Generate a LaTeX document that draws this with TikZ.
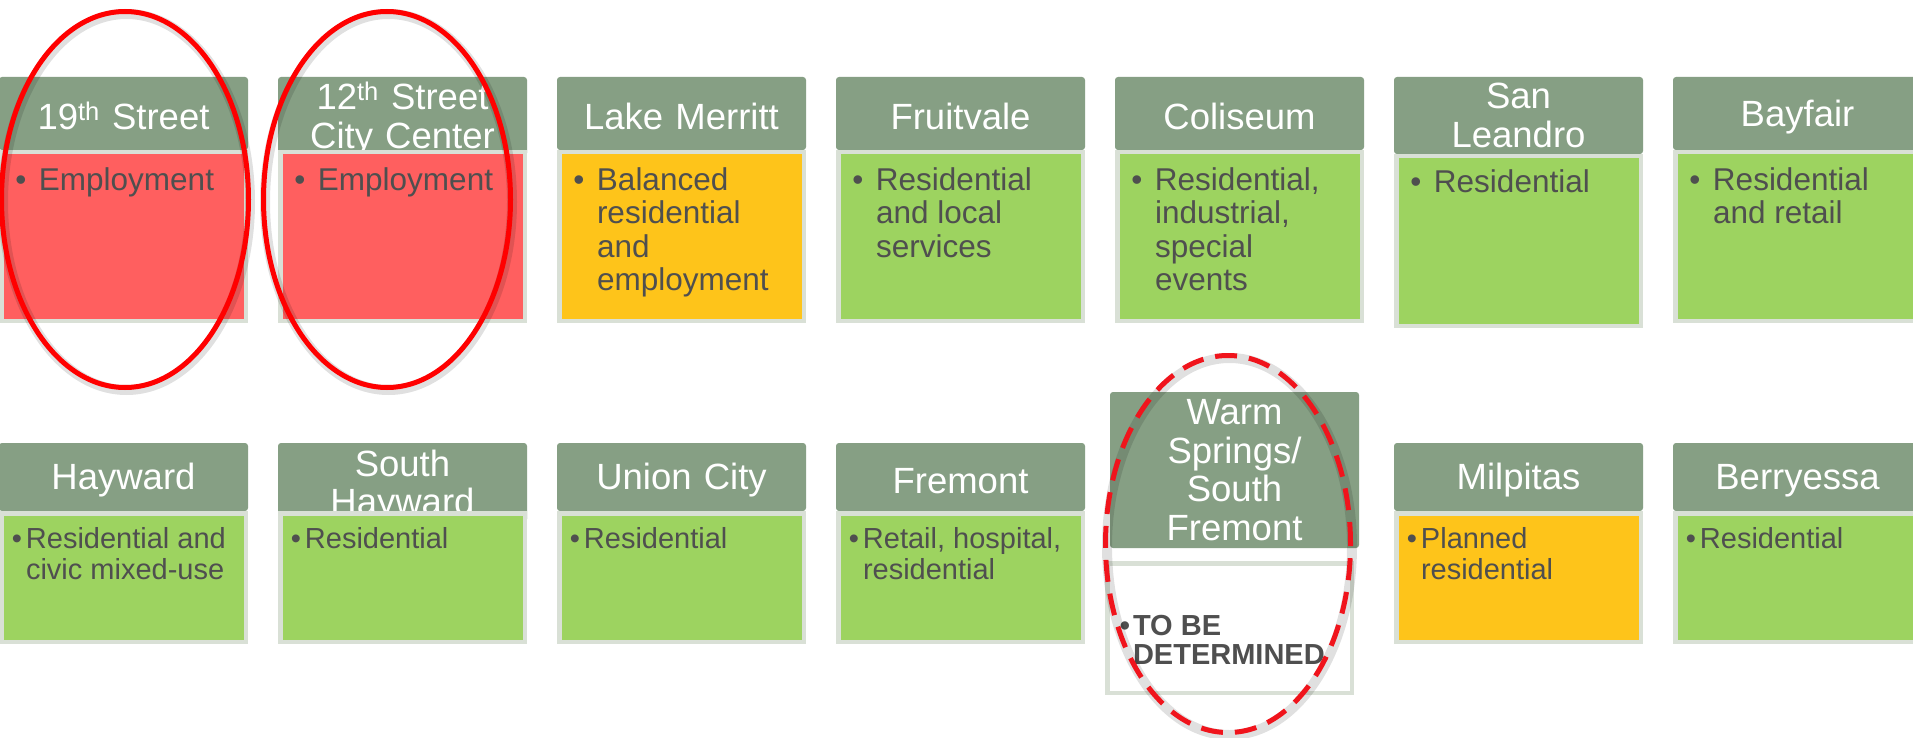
\documentclass[tikz,border=0pt]{standalone}
\usepackage{fontspec}
\setmainfont{Liberation Sans}
\definecolor{hdr}{HTML}{869F84}
\definecolor{bord}{HTML}{D9E0D6}
\definecolor{redf}{HTML}{FF5F5F}
\definecolor{goldf}{HTML}{FEC41A}
\definecolor{greenf}{HTML}{9DD360}
\definecolor{txt}{HTML}{4F4F4F}
\definecolor{ellred}{HTML}{FF0000}
\definecolor{dashred}{HTML}{F0141C}
\newcommand\bltext[2]{\llap{\textbullet\hspace{#1}}\parbox[t]{215pt}{\raggedright #2}}
\newcommand\hstrut{\rule{0pt}{33pt}}
\tikzset{
  hdrbox/.style={fill=hdr, rounded corners=3pt, inner sep=0pt, outer sep=0pt,
    anchor=north west, minimum width=249pt, text width=249pt, align=center,
    text=white, font=\fontsize{36.5}{38.5}\selectfont},
  bodybox/.style={draw=bord, line width=4.5pt, outer sep=2.25pt, inner sep=0pt,
    anchor=north west, minimum width=244.5pt},
  toptext/.style={anchor=base west, inner sep=0pt, outer sep=0pt, text=txt,
    font=\fontsize{31.5}{33.5}\selectfont},
  bottext/.style={anchor=base west, inner sep=0pt, outer sep=0pt, text=txt,
    font=\fontsize{29}{31}\selectfont},
  hilite/.style={draw=ellred, line width=5pt},
  hilitedash/.style={draw=dashred, line width=5pt, dash pattern=on 22pt off 12pt},
  glow/.style={draw=black, opacity=0.12, line width=10pt},
}
\begin{document}
\begin{tikzpicture}[x=1pt,y=-1pt]
\useasboundingbox[fill=white] (0,0) rectangle (1913,738);

% ---------------- top row ----------------
\node[hdrbox, minimum height=73pt] (h1) at (-1,77) {\hstrut 19\textsuperscript{th} Street};
\node[bodybox, fill=redf, minimum height=168.5pt] (b1) at (-1,150) {};
\node[toptext] (t1) at ([xshift=40pt,yshift=-40pt]b1.north west) {\bltext{12.5pt}{Employment}};

\node[hdrbox, minimum height=73pt] (h2) at (278,77) {\hstrut 12\textsuperscript{th} Street\\City Center};
\node[bodybox, fill=redf, minimum height=168.5pt] (b2) at (278,150) {};
\node[toptext] (t2) at ([xshift=40pt,yshift=-40pt]b2.north west) {\bltext{12.5pt}{Employment}};

\node[hdrbox, minimum height=73pt] (h3) at (557,77) {\hstrut Lake Merritt};
\node[bodybox, fill=goldf, minimum height=168.5pt] (b3) at (557,150) {};
\node[toptext] (t3) at ([xshift=40pt,yshift=-40pt]b3.north west) {\bltext{12.5pt}{Balanced\\residential\\and\\employment}};

\node[hdrbox, minimum height=73pt] (h4) at (836,77) {\hstrut Fruitvale};
\node[bodybox, fill=greenf, minimum height=168.5pt] (b4) at (836,150) {};
\node[toptext] (t4) at ([xshift=40pt,yshift=-40pt]b4.north west) {\bltext{12.5pt}{Residential\\and local\\services}};

\node[hdrbox, minimum height=73pt] (h5) at (1115,77) {\hstrut Coliseum};
\node[bodybox, fill=greenf, minimum height=168.5pt] (b5) at (1115,150) {};
\node[toptext] (t5) at ([xshift=40pt,yshift=-40pt]b5.north west) {\bltext{12.5pt}{Residential,\\industrial,\\special\\events}};

\node[hdrbox, minimum height=77pt] (h6) at (1394,77) {San\\Leandro};
\node[bodybox, fill=greenf, minimum height=169.5pt] (b6) at (1394,154) {};
\node[toptext] (t6) at ([xshift=40pt,yshift=-39pt]b6.north west) {\bltext{12.5pt}{Residential}};

\node[hdrbox, minimum height=73pt] (h7) at (1673,77) {\hstrut Bayfair};
\node[bodybox, fill=greenf, minimum height=168.5pt] (b7) at (1673,150) {};
\node[toptext] (t7) at ([xshift=40pt,yshift=-40pt]b7.north west) {\bltext{12.5pt}{Residential\\and retail}};

% ---------------- bottom row ----------------
\node[hdrbox, minimum height=68pt] (h8) at (-1,443) {\hstrut Hayward};
\node[bodybox, fill=greenf, minimum height=128.5pt] (b8) at (-1,511) {};
\node[bottext] (t8) at ([xshift=27pt,yshift=-37pt]b8.north west) {\bltext{4pt}{Residential and\\civic mixed-use}};

\node[hdrbox, minimum height=68pt] (h9) at (278,443) {\hstrut South\\Hayward};
\node[bodybox, fill=greenf, minimum height=128.5pt] (b9) at (278,511) {};
\node[bottext] (t9) at ([xshift=27pt,yshift=-37pt]b9.north west) {\bltext{4pt}{Residential}};

\node[hdrbox, minimum height=68pt] (h10) at (557,443) {\hstrut Union City};
\node[bodybox, fill=greenf, minimum height=128.5pt] (b10) at (557,511) {};
\node[bottext] (t10) at ([xshift=27pt,yshift=-37pt]b10.north west) {\bltext{4pt}{Residential}};

\node[hdrbox, minimum height=68pt] (h11) at (836,443) {\hstrut Fremont};
\node[bodybox, fill=greenf, minimum height=128.5pt] (b11) at (836,511) {};
\node[bottext] (t11) at ([xshift=27pt,yshift=-37pt]b11.north west) {\bltext{4pt}{Retail, hospital,\\residential}};

\node[hdrbox, minimum height=156pt] (h12) at (1110,392) {Warm\\Springs/\\South\\Fremont};
\node[bodybox, fill=white, minimum height=129.5pt] (b12) at (1105,561) {};
\node[bottext, font=\fontsize{29}{29.5}\selectfont\bfseries] (t12) at ([xshift=28pt,yshift=-74pt]b12.north west) {\bltext{3pt}{TO BE\\DETERMINED}};

\node[hdrbox, minimum height=68pt] (h13) at (1394,443) {\hstrut Milpitas};
\node[bodybox, fill=goldf, minimum height=128.5pt] (b13) at (1394,511) {};
\node[bottext] (t13) at ([xshift=27pt,yshift=-37pt]b13.north west) {\bltext{4pt}{Planned\\residential}};

\node[hdrbox, minimum height=68pt] (h14) at (1673,443) {\hstrut Berryessa};
\node[bodybox, fill=greenf, minimum height=128.5pt] (b14) at (1673,511) {};
\node[bottext] (t14) at ([xshift=27pt,yshift=-37pt]b14.north west) {\bltext{4pt}{Residential}};

% ---------------- highlight ellipses ----------------
\coordinate (e1) at (125,199.5);
\coordinate (e2) at (387,199.5);
\coordinate (e3) at (1228,544);
\draw[glow] ([shift={(1.5pt,-2.5pt)}]e1) ellipse [x radius=123.5pt, y radius=188pt];
\draw[glow] ([shift={(1.5pt,-2.5pt)}]e2) ellipse [x radius=123.5pt, y radius=188pt];
\draw[glow] ([shift={(1.5pt,-2.5pt)}]e3) ellipse [x radius=122.5pt, y radius=188.5pt];
\draw[hilite] (e1) ellipse [x radius=123.5pt, y radius=188pt];
\draw[hilite] (e2) ellipse [x radius=123.5pt, y radius=188pt];
\draw[hilitedash] (e3) ellipse [x radius=122.5pt, y radius=188.5pt];
\end{tikzpicture}
\end{document}
